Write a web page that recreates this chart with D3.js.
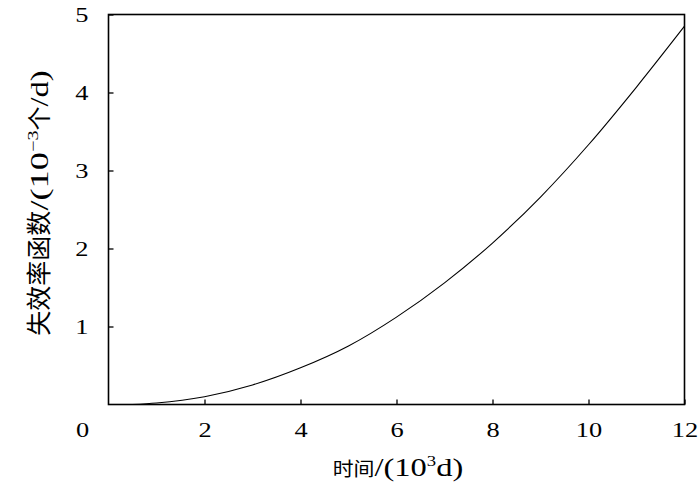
<!DOCTYPE html>
<html>
<head>
	<meta charset="utf-8">
	<script src="https://cdn.jsdelivr.net/npm/d3@7"></script>
	<style>
		html, body {
			padding: 0;
			margin: 0;
			background: #fff;
		}
		text {
			font-family: "Liberation Serif", serif;
			fill: #000;
		}
		.cjk {
			font-family: "Noto Sans CJK SC", sans-serif;
		}
	</style>
</head>
<body>
	<script>
		var width = 700, height = 490;
		var margin = {top: 14.5, right: 15.5, bottom: 85.5, left: 108.5};

		/* data: time (10^3 d) and failure rate (10^-3 /d) */
		var times = [0.5, 1, 2, 3, 4, 5, 6, 7, 8, 9, 10, 11, 12];
		var rates = [0, 0.02, 0.10, 0.25, 0.47, 0.75, 1.12, 1.56, 2.07, 2.66, 3.33, 4.07, 4.85];
		var xTicks = [2, 4, 6, 8, 10, 12];
		var yTicks = [1, 2, 3, 4, 5];

		var svg = d3.select('body').append('svg')
			.attr('width', width)
			.attr('height', height);

		var x = d3.scaleLinear().domain([0, 12]).range([margin.left, width - margin.right]);
		var y = d3.scaleLinear().domain([0, 5]).range([height - margin.bottom, margin.top]);

		// the digits in the reference are drawn a bit wide
		var stretch = 1.2;

		// x axis, ticks pointing inward
		var xAxis = svg.append('g')
			.attr('transform', 'translate(0,' + y(0) + ')')
			.call(d3.axisBottom(x).tickValues(xTicks).tickFormat(d3.format('d')).tickSize(-5).tickPadding(17));
		xAxis.select('.domain').remove();
		xAxis.selectAll('text')
			.attr('font-size', 22)
			.attr('dy', '0.71em')
			.attr('transform', 'scale(' + stretch + ',1)')
			.style('font-family', '"Liberation Serif", serif');

		var yAxis = svg.append('g')
			.attr('transform', 'translate(' + x(0) + ',0)')
			.call(d3.axisLeft(y).tickValues(yTicks).tickFormat(d3.format('d')).tickSize(-5));
		yAxis.select('.domain').remove();
		yAxis.selectAll('text')
			.attr('x', 0)
			.attr('font-size', 22)
			.attr('transform', 'translate(-20,0) scale(' + stretch + ',1)')
			.style('font-family', '"Liberation Serif", serif');
		svg.selectAll('.tick line').attr('stroke', '#000').attr('stroke-width', 1.3);

		// shared origin label
		svg.append('text')
			.attr('transform', 'translate(' + (x(0) - 26) + ',' + (y(0) + 17) + ') scale(' + stretch + ',1)')
			.attr('dy', '0.71em')
			.attr('text-anchor', 'middle')
			.attr('font-size', 22)
			.text('0');

		// frame
		svg.append('rect')
			.attr('x', x(0)).attr('y', y(5))
			.attr('width', x(12) - x(0)).attr('height', y(0) - y(5))
			.attr('fill', 'none')
			.attr('stroke', '#000')
			.attr('stroke-width', 1.6);

		// curve
		var pts = times.map(function(t, i) { return [t, rates[i]]; });
		var line = d3.line()
			.x(function(d) { return x(d[0]); })
			.y(function(d) { return y(d[1]); })
			.curve(d3.curveMonotoneX);
		svg.append('path')
			.datum(pts)
			.attr('d', line)
			.attr('fill', 'none')
			.attr('stroke', '#000')
			.attr('stroke-width', 1.1);

		/* lay out a title from pieces of mixed font along one baseline, then centre it */
		var drawTitle = function(g, pieces) {
			var pos = 0;
			pieces.forEach(function(p) {
				var t = g.append('text')
					.attr('class', p.cjk ? 'cjk' : null)
					.attr('font-size', p.size)
					.attr('transform', 'translate(' + pos + ',' + (p.dy || 0) + ') scale(' + p.sx + ',1)')
					.text(p.text);
				pos += t.node().getComputedTextLength() * p.sx;
			});
			g.selectAll('text').each(function() {
				var el = d3.select(this);
				el.attr('transform', el.attr('transform').replace(/translate\(([-\d.]+)/, function(m, a) {
					return 'translate(' + (parseFloat(a) - pos / 2);
				}));
			});
		};

		var xTitle = svg.append('g').attr('transform', 'translate(398,476)');
		drawTitle(xTitle, [
			{text: '时间', size: 19, sx: 1.1, cjk: true},
			{text: '/(10', size: 26, sx: 1.25},
			{text: '3', size: 15, sx: 1.25, dy: -10},
			{text: 'd)', size: 26, sx: 1.25}
		]);

		var yTitle = svg.append('g').attr('transform', 'translate(48,203) rotate(-90)');
		drawTitle(yTitle, [
			{text: '失效率函数', size: 25, sx: 1, cjk: true},
			{text: '/(10', size: 26, sx: 1.4},
			{text: '\u22123', size: 15, sx: 1.35, dy: -10},
			{text: '个', size: 24, sx: 1, cjk: true},
			{text: '/d)', size: 26, sx: 1.25}
		]);
	</script>
</body>
</html>
